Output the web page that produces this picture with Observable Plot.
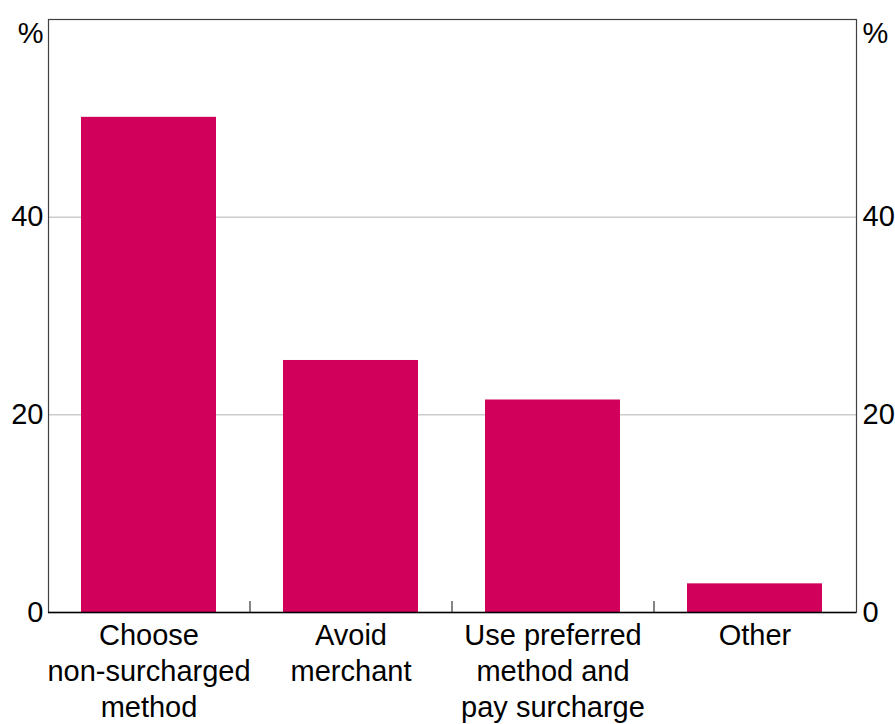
<!DOCTYPE html>
<html><head><meta charset="utf-8">
<script src="https://cdn.jsdelivr.net/npm/d3@7"></script>
<script src="https://cdn.jsdelivr.net/npm/@observablehq/plot@0.6"></script>
<style>body{margin:0;background:#fff}</style>
</head><body><div id="chart"></div>
<script>
const categories = ["Choose non-surcharged method", "Avoid merchant", "Use preferred method and pay surcharge", "Other"];
const categoryLabels = ["Choose\nnon-surcharged\nmethod", "Avoid\nmerchant", "Use preferred\nmethod and\npay surcharge", "Other"];
const values = [50.1, 25.5, 21.5, 2.9];
const yTicks = [0, 20, 40];
const gridTicks = [20, 40];
const unitLabel = ["%"];

const data = categories.map((c, i) => ({category: c, value: values[i]}));
const W = 895, H = 724, mL = 48, mR = 39, mT = 19, mB = 112;
const step = (W - mL - mR) / categories.length;
const font = "'Liberation Sans', Arial, Helvetica, sans-serif";
const fs = 29;

const chart = Plot.plot({
  width: W, height: H,
  marginLeft: mL, marginRight: mR, marginTop: mT, marginBottom: mB,
  style: {fontFamily: font, fontSize: fs + "px", color: "#000", background: "#fff", overflow: "visible"},
  x: {domain: categories, paddingInner: 0.33, paddingOuter: 0.165, axis: null},
  y: {domain: [0, 60], axis: null, label: null},
  marks: [
    Plot.gridY(gridTicks, {stroke: "#b4b4b4", strokeOpacity: 1, strokeWidth: 1}),
    Plot.barY(data, {x: "category", y: "value", fill: "#d1005a"}),
    Plot.frame({stroke: "#404040", strokeWidth: 1.2}),
    Plot.ruleY([0], {stroke: "#000", strokeWidth: 1.5}),
    Plot.ruleX(categories.slice(1), {x: d => d, dx: -step / 2, insetTop: (H - mT - mB) - 11, stroke: "#333", strokeWidth: 1.2}),
    Plot.axisY(yTicks, {anchor: "left", label: null, tickSize: 0, tickPadding: 5, fontSize: fs, fill: "#000"}),
    Plot.axisY(yTicks, {anchor: "right", label: null, tickSize: 0, tickPadding: 6, fontSize: fs, fill: "#000"}),
    Plot.text(unitLabel, {frameAnchor: "top-left", textAnchor: "end", lineAnchor: "middle", dx: -5, dy: 14, fontSize: fs, fill: "#000"}),
    Plot.text(unitLabel, {frameAnchor: "top-right", textAnchor: "start", lineAnchor: "middle", dx: 6, dy: 14, fontSize: fs, fill: "#000"}),
    Plot.text(categories, {x: d => d, text: (d, i) => categoryLabels[i], frameAnchor: "bottom", lineAnchor: "top", dy: 7, lineHeight: 1.24, fontSize: fs, fill: "#000"})
  ]
});
document.getElementById("chart").appendChild(chart);
</script>
</body></html>
